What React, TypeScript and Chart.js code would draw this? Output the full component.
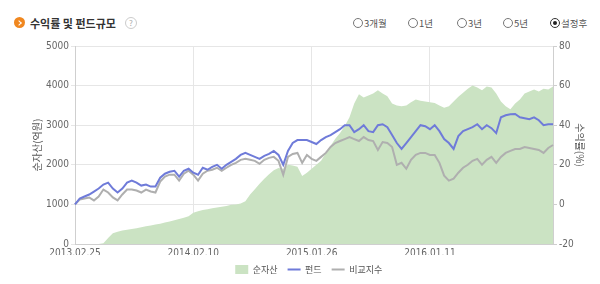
import React, { useEffect, useLayoutEffect, useRef } from 'react';
import { Chart, registerables } from 'chart.js';

Chart.register(...registerables);

// ---- data (biweekly samples, 2013.02.25 ~) ----
const START_UTC = Date.UTC(2013, 1, 25);
const POINT_COUNT = 102;
const dateLabels: string[] = Array.from({ length: POINT_COUNT }, (_, i) => {
  const d = new Date(START_UTC + i * 14 * 86400000);
  const mm = String(d.getUTCMonth() + 1).padStart(2, '0');
  const dd = String(d.getUTCDate()).padStart(2, '0');
  return `${d.getUTCFullYear()}.${mm}.${dd}`;
});
const shownDateTicks = ['2013.02.25', '2014.02.10', '2015.01.26', '2016.01.11'];

// 순자산 (억원)
const netAssets = [
  0, 0, 0, 0, 0, 0, 20, 150, 270, 310,
  340, 360, 380, 400, 420, 450, 470, 490, 510, 540,
  570, 600, 630, 660, 700, 790, 830, 860, 880, 900,
  920, 940, 960, 990, 1000, 1020, 1080, 1250, 1380, 1520,
  1650, 1760, 1860, 1920, 1900, 2000, 1980, 1950, 1720, 1800,
  1900, 2000, 2100, 2300, 2480, 2660, 2800, 2980, 3200, 3550,
  3780, 3700, 3750, 3800, 3880, 3800, 3730, 3550, 3500, 3480,
  3500, 3580, 3650, 3620, 3600, 3580, 3560, 3500, 3440, 3480,
  3600, 3720, 3820, 3920, 4000, 3950, 3880, 3980, 3950, 3800,
  3600, 3480, 3400, 3550, 3650, 3800, 3850, 3900, 3850, 3920,
  3900, 3980,
];

// 펀드 수익률 (%)
const fundReturn = [
  0, 3, 4, 5, 6.5, 8, 10, 11, 8, 6,
  8, 11, 12, 11, 9.5, 10, 9, 9, 13.5, 15.5,
  16.5, 17, 14, 17, 18, 16, 15, 18.5, 17.5, 19,
  20, 18, 20, 21.5, 23, 25, 26, 25, 24, 23,
  24.5, 25.5, 27, 25, 20, 27, 31, 32.5, 32.5, 32.5,
  31.5, 30.5, 32.5, 34, 35, 36.5, 38, 40, 40, 36.5,
  38, 40, 37, 36.5, 40, 40.5, 39, 35, 31, 28,
  31, 34, 37, 40, 39.5, 38, 40, 37, 33, 31,
  28, 34.5, 37, 38, 39, 40.5, 38, 40, 38.5, 36,
  44, 45, 45.5, 45.7, 44, 43.5, 43, 44, 42.5, 40,
  40.5, 40.5,
];

// 비교지수 수익률 (%)
const benchReturn = [
  0, 2.5, 3, 3.5, 2, 4, 7.5, 6, 3.5, 2,
  5, 7.5, 7.5, 7, 6, 7.5, 6.5, 6, 11.5, 14,
  15, 15, 12, 15.5, 17, 15, 12, 15.5, 17, 17.5,
  18.5, 17, 18.5, 20, 21, 22.5, 23, 22.5, 22, 20.5,
  22.5, 23.5, 24, 22, 15, 24, 25.5, 26, 21, 25,
  23, 22, 24, 26, 29, 31, 32, 33, 34, 33,
  32, 34, 32.5, 32, 27.5, 31.5, 31, 29, 20, 21,
  18, 22.5, 25, 26, 26, 25, 25, 21, 14.5, 12,
  13, 16, 18.5, 20, 22, 23, 20, 22.5, 24, 21,
  24, 26, 27, 28, 28, 29, 28.5, 28, 27.5, 26,
  28.5, 30,
];

const leftTicks = { min: 0, max: 5000, step: 1000 };
const rightTicks = { min: -20, max: 80, step: 20 };

const seriesNames = ['순자산', '펀드', '비교지수'];
const periodOptions = ['3개월', '1년', '3년', '5년', '설정후'];

const KR = "'Noto Sans CJK KR', 'Noto Sans', sans-serif";
const NUM = "'Liberation Sans Narrow', 'DejaVu Sans Condensed', 'Liberation Sans', sans-serif";
const GREEN = '#cbe3c3';
const BLUE = '#6f7bd9';
const GRAY = '#afafaf';

function ChartCanvas() {
  const ref = useRef<HTMLCanvasElement | null>(null);
  useEffect(() => {
    if (!ref.current) return;
    const chart = new Chart(ref.current, {
      type: 'line',
      data: {
        labels: dateLabels,
        datasets: [
          {
            label: seriesNames[0],
            data: netAssets,
            yAxisID: 'y',
            fill: 'origin',
            backgroundColor: GREEN,
            borderColor: GREEN,
            borderWidth: 0,
            pointRadius: 0,
            tension: 0,
            order: 3,
          },
          {
            label: seriesNames[1],
            data: fundReturn,
            yAxisID: 'y1',
            fill: false,
            borderColor: BLUE,
            borderWidth: 2,
            pointRadius: 0,
            tension: 0,
            order: 1,
          },
          {
            label: seriesNames[2],
            data: benchReturn,
            yAxisID: 'y1',
            fill: false,
            borderColor: GRAY,
            borderWidth: 2,
            pointRadius: 0,
            tension: 0,
            order: 2,
          },
        ],
      },
      options: {
        animation: false,
        responsive: false,
        devicePixelRatio: 1,
        layout: { padding: { left: 27.5, right: 10, top: 14, bottom: 0 } },
        plugins: {
          tooltip: { enabled: false },
          legend: {
            position: 'bottom',
            labels: {
              usePointStyle: true,
              pointStyleWidth: 13,
              boxHeight: 9,
              padding: 10,
              color: '#555',
              font: { size: 9, family: KR },
              generateLabels: () => [
                { text: seriesNames[0], fillStyle: GREEN, strokeStyle: GREEN, lineWidth: 0, pointStyle: 'rect', hidden: false, datasetIndex: 0, fontColor: '#555' },
                { text: seriesNames[1], fillStyle: BLUE, strokeStyle: BLUE, lineWidth: 2, pointStyle: 'line', hidden: false, datasetIndex: 1, fontColor: '#555' },
                { text: seriesNames[2], fillStyle: GRAY, strokeStyle: GRAY, lineWidth: 2, pointStyle: 'line', hidden: false, datasetIndex: 2, fontColor: '#555' },
              ] as any,
            },
          },
        },
        scales: {
          x: {
            type: 'category',
            grid: { color: '#e6e6e6', drawTicks: false },
            border: { color: '#cfcfcf' },
            ticks: {
              autoSkip: false,
              maxRotation: 0,
              padding: 3,
              color: '#666',
              font: { size: 10, family: NUM },
              callback: (_v: any, i: number) => (shownDateTicks.includes(dateLabels[i]) ? dateLabels[i] : null),
            },
            afterFit: (s: any) => { s.height = 11; },
          },
          y: {
            position: 'left',
            min: leftTicks.min,
            max: leftTicks.max,
            ticks: { stepSize: leftTicks.step, color: '#666', padding: 2, font: { size: 10, family: NUM }, callback: (v: any) => String(v) },
            grid: { color: '#e6e6e6', tickLength: 4 },
            border: { color: '#cfcfcf' },
            title: { display: true, text: '순자산(억원)', color: '#555', font: { size: 10, family: KR }, padding: { top: 4, bottom: 4 } },
            afterFit: (s: any) => { s.width = 47.5; },
          },
          y1: {
            position: 'right',
            min: rightTicks.min,
            max: rightTicks.max,
            ticks: { stepSize: rightTicks.step, color: '#666', padding: 2, font: { size: 10, family: NUM }, callback: (v: any) => String(v) },
            grid: { drawOnChartArea: false, tickLength: 4, color: '#cfcfcf' },
            border: { color: '#cfcfcf' },
            title: { display: true, text: '수익률(%)', color: '#555', font: { size: 10, family: KR }, padding: { top: 4, bottom: 4 } },
            afterFit: (s: any) => { s.width = 37; },
          },
        },
      } as any,
    });
    return () => chart.destroy();
  }, []);
  return (
    <canvas
      ref={ref}
      width={600}
      height={252}
      style={{ position: 'absolute', left: 0, top: 32, width: 600, height: 252 }}
    />
  );
}

const radioLefts = [353, 408, 457, 503, 550];

export default function App() {
  useLayoutEffect(() => {
    document.body.style.margin = '0';
  }, []);
  return (
    <div style={{ position: 'relative', width: 600, height: 284, overflow: 'hidden', background: '#fff', fontFamily: KR }}>
      {/* title icon */}
      <div style={{ position: 'absolute', left: 14, top: 17, width: 11, height: 11, borderRadius: '50%', background: '#f0871f' }}>
        <div style={{ position: 'absolute', left: 2.5, top: 3.5, width: 3, height: 3, borderTop: '1.5px solid #fff', borderRight: '1.5px solid #fff', transform: 'rotate(45deg)' }} />
      </div>
      <div style={{ position: 'absolute', left: 30, top: 13, fontSize: 11, fontWeight: 700, color: '#333', lineHeight: '20px', whiteSpace: 'nowrap' }}>
        수익률 및 펀드규모
      </div>
      <div style={{ position: 'absolute', left: 125, top: 17, width: 10, height: 10, borderRadius: '50%', border: '1px solid #ccc', color: '#aaa', fontSize: 8, lineHeight: '10px', textAlign: 'center' }}>
        ?
      </div>
      {periodOptions.map((p, i) => {
        const selected = i === periodOptions.length - 1;
        return (
          <div key={p}>
            <div style={{ position: 'absolute', left: radioLefts[i], top: 18, width: 8, height: 8, borderRadius: '50%', border: `1px solid ${selected ? '#333' : '#777'}`, background: '#fff' }}>
              {selected && <div style={{ position: 'absolute', left: 2, top: 2, width: 4, height: 4, borderRadius: '50%', background: '#222' }} />}
            </div>
            <div style={{ position: 'absolute', left: radioLefts[i] + 11, top: 13, fontSize: 9.5, color: '#555', lineHeight: '20px', whiteSpace: 'nowrap' }}>{p}</div>
          </div>
        );
      })}
      <ChartCanvas />
    </div>
  );
}
